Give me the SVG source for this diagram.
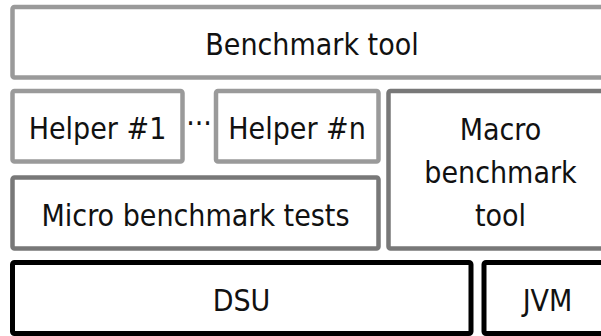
<svg xmlns="http://www.w3.org/2000/svg" width="601" height="336" viewBox="0 0 601 336">
<style>
.box{fill:#fff;stroke-width:4.5}
.light{stroke:#9a9a9a}
.mid{stroke:#787878}
.dark{stroke:#000;stroke-width:5}
.t{font-family:"DejaVu Sans Condensed","DejaVu Sans",sans-serif;font-stretch:condensed;font-size:30px;fill:#111;text-anchor:middle}
</style>
<rect width="601" height="336" fill="#fff"/>
<g id="benchmark-tool">
<rect class="box light" x="12.5" y="7" width="600" height="70.5" rx="2"/>
<text class="t" x="312" y="55">Benchmark tool</text>
</g>
<g id="helper-1">
<rect class="box light" x="12.5" y="91" width="170" height="70.5" rx="2"/>
<text class="t" x="97.5" y="139">Helper #1</text>
</g>
<g id="ellipsis">
<text class="t" x="199" y="134">···</text>
</g>
<g id="helper-n">
<rect class="box light" x="216" y="91" width="162.5" height="70.5" rx="2"/>
<text class="t" x="297" y="139">Helper #n</text>
</g>
<g id="macro">
<rect class="box mid" x="388.5" y="91" width="224" height="157.5" rx="2"/>
<text class="t" x="500.5" y="140">Macro</text>
<text class="t" x="500.5" y="183">benchmark</text>
<text class="t" x="500.5" y="226">tool</text>
</g>
<g id="micro">
<rect class="box mid" x="12.5" y="177.5" width="366" height="71" rx="2"/>
<text class="t" x="195.5" y="226">Micro benchmark tests</text>
</g>
<g id="dsu">
<rect class="box dark" x="12.5" y="262.5" width="458.5" height="71" rx="2"/>
<text class="t" x="241.5" y="311">DSU</text>
</g>
<g id="jvm">
<rect class="box dark" x="484" y="262.5" width="128" height="71" rx="2"/>
<text class="t" x="547.5" y="311">JVM</text>
</g>
<g id="connectors"/>
</svg>
